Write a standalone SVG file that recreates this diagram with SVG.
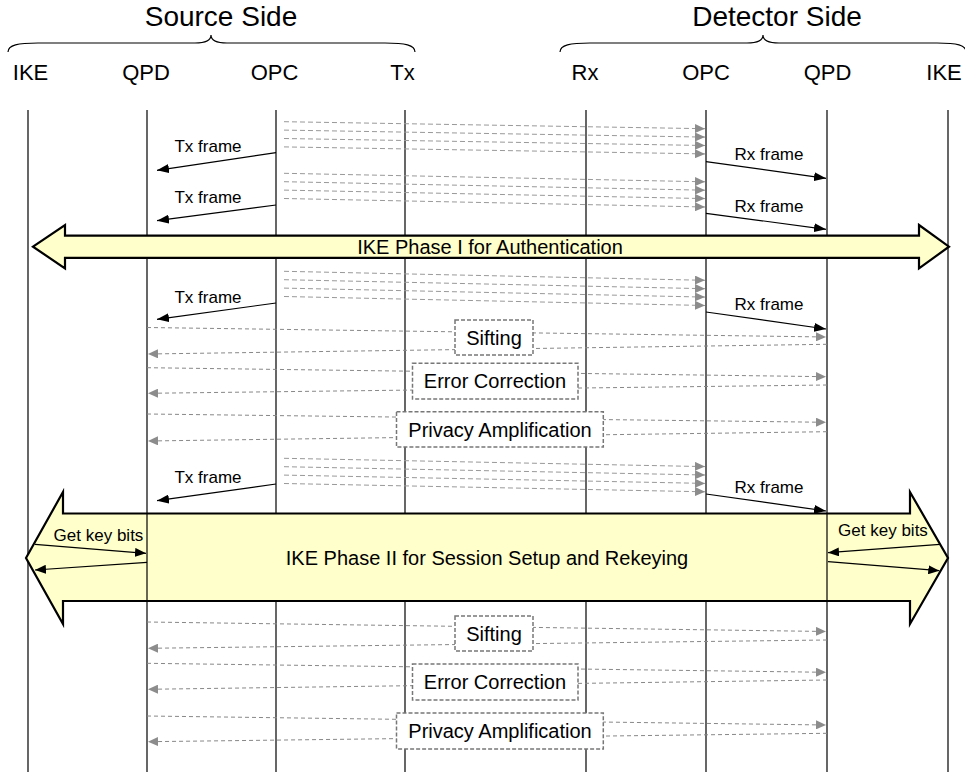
<svg xmlns="http://www.w3.org/2000/svg" width="965" height="772" viewBox="0 0 965 772">
<style>
text{font-family:"Liberation Sans",Arial,sans-serif;fill:#000}
.hdr{font-size:28px;text-anchor:middle}
.lbl{font-size:22px;text-anchor:middle}
.sm{font-size:17px;text-anchor:middle}
.big{font-size:20px;text-anchor:middle}
.life{stroke:#000;stroke-width:1.2;fill:none}
.brace{stroke:#000;stroke-width:1.2;fill:none}
.q{stroke:#999;stroke-width:1;stroke-dasharray:5,3;fill:none;marker-end:url(#ag)}
.msg{stroke:#000;stroke-width:1.2;fill:none;marker-end:url(#ab)}
.kb{stroke:#000;stroke-width:1.2;fill:none;marker-end:url(#ak)}
.pp{stroke:#888;stroke-width:1;stroke-dasharray:4,3;fill:none;marker-end:url(#ag)}
.box{fill:#fff;stroke:#777;stroke-width:1.5;stroke-dasharray:4,2}
.ike{fill:#FFFFCC;stroke:#000;stroke-width:2.2;stroke-linejoin:miter}
</style>
<defs>
<marker id="ag" markerUnits="userSpaceOnUse" markerWidth="11" markerHeight="9" refX="10" refY="4.5" orient="auto"><path d="M0,0 L10,4.5 L0,9 z" fill="#8c8c8c"/></marker>
<marker id="ab" markerUnits="userSpaceOnUse" markerWidth="13" markerHeight="9" refX="12" refY="4.5" orient="auto"><path d="M0,0 L12,4.5 L0,9 z" fill="#000"/></marker>
<marker id="ak" markerUnits="userSpaceOnUse" markerWidth="12" markerHeight="9" refX="11" refY="4.5" orient="auto"><path d="M0,0 L11,4.5 L0,9 z" fill="#000"/></marker>
</defs>

<g id="headers">
<text class="hdr" x="221" y="26">Source Side</text>
<text class="hdr" x="777" y="26">Detector Side</text>
<path class="brace" d="M8,52 C8,45 18,43 38,43 L195,43 C205,43 211,40 211,35 C211,40 217,43 227,43 L385,43 C405,43 415,45 415,52"/>
<path class="brace" d="M560,52 C560,45 570,43 590,43 L747,43 C757,43 763,40 763,35 C763,40 769,43 779,43 L937,43 C957,43 966,45 966,52"/>
</g>

<g id="lifelines">
<g id="src-ike"><text class="lbl" x="30.5" y="80">IKE</text><line class="life" x1="28" y1="110" x2="28" y2="772"/></g>
<g id="src-qpd"><text class="lbl" x="146" y="80">QPD</text><line class="life" x1="147" y1="110" x2="147" y2="772"/></g>
<g id="src-opc"><text class="lbl" x="274.5" y="80">OPC</text><line class="life" x1="276" y1="110" x2="276" y2="772"/></g>
<g id="src-tx"><text class="lbl" x="402.5" y="80">Tx</text><line class="life" x1="405" y1="110" x2="405" y2="772"/></g>
<g id="det-rx"><text class="lbl" x="585" y="80">Rx</text><line class="life" x1="586" y1="110" x2="586" y2="772"/></g>
<g id="det-opc"><text class="lbl" x="706" y="80">OPC</text><line class="life" x1="706" y1="110" x2="706" y2="772"/></g>
<g id="det-qpd"><text class="lbl" x="827.5" y="80">QPD</text><line class="life" x1="827" y1="110" x2="827" y2="772"/></g>
<g id="det-ike"><text class="lbl" x="944" y="80">IKE</text><line class="life" x1="948" y1="110" x2="948" y2="772"/></g>
</g>

<g id="connectors">
<g id="frames1">
<line class="q" x1="284" y1="121.7" x2="705" y2="128.7"/>
<line class="q" x1="284" y1="130.1" x2="705" y2="137.1"/>
<line class="q" x1="284" y1="138.5" x2="705" y2="145.5"/>
<line class="q" x1="284" y1="146.9" x2="705" y2="153.9"/>
<line class="msg" x1="276" y1="152.7" x2="157" y2="170.3"/>
<text class="sm" x="208" y="152">Tx frame</text>
<line class="msg" x1="706" y1="161.7" x2="826" y2="178.3"/>
<text class="sm" x="769" y="160">Rx frame</text>
</g>
<g id="frames2">
<line class="q" x1="284" y1="173.3" x2="705" y2="181.8"/>
<line class="q" x1="284" y1="181.7" x2="705" y2="190.2"/>
<line class="q" x1="284" y1="190.1" x2="705" y2="198.6"/>
<line class="q" x1="284" y1="198.5" x2="705" y2="207"/>
<line class="msg" x1="276" y1="205" x2="157" y2="220.7"/>
<text class="sm" x="208" y="203">Tx frame</text>
<line class="msg" x1="706" y1="213.3" x2="826" y2="229.3"/>
<text class="sm" x="769" y="211.7">Rx frame</text>
</g>
</g>

<g id="ike-phase1">
<polygon class="ike" points="33,246.7 65,225 65,235.7 919,235.7 919,225 949,246.7 919,268.4 919,257.8 65,257.8 65,268.4"/>
<text class="big" x="490" y="253.5">IKE Phase I for Authentication</text>
</g>

<g id="connectors2">
<g id="frames3">
<line class="q" x1="284" y1="271.3" x2="705" y2="280.3"/>
<line class="q" x1="284" y1="279.7" x2="705" y2="288.7"/>
<line class="q" x1="284" y1="288.1" x2="705" y2="297.1"/>
<line class="q" x1="284" y1="296.5" x2="705" y2="305.5"/>
<line class="msg" x1="276" y1="303" x2="157" y2="319.3"/>
<text class="sm" x="208" y="302.7">Tx frame</text>
<line class="msg" x1="706" y1="312" x2="826" y2="329"/>
<text class="sm" x="769" y="310">Rx frame</text>
</g>
<g id="post1">
<line class="pp" x1="147" y1="327.5" x2="826" y2="337"/>
<line class="pp" x1="827" y1="344.3" x2="148" y2="354"/>
<line class="pp" x1="147" y1="367.7" x2="826" y2="376.7"/>
<line class="pp" x1="827" y1="385" x2="148" y2="393.3"/>
<line class="pp" x1="147" y1="414" x2="826" y2="422.3"/>
<line class="pp" x1="827" y1="431.7" x2="148" y2="441"/>
</g>
<g id="frames4">
<line class="q" x1="284" y1="458.3" x2="705" y2="466.6"/>
<line class="q" x1="284" y1="466.7" x2="705" y2="475"/>
<line class="q" x1="284" y1="475.1" x2="705" y2="483.4"/>
<line class="q" x1="284" y1="483.5" x2="705" y2="491.8"/>
<line class="msg" x1="276" y1="484" x2="157" y2="500.7"/>
<text class="sm" x="208" y="483.3">Tx frame</text>
<line class="msg" x1="706" y1="494" x2="826" y2="511"/>
<text class="sm" x="769" y="493">Rx frame</text>
</g>
</g>

<g id="sifting1"><rect class="box" x="455" y="320" width="78" height="35"/><text class="big" x="494" y="344.5">Sifting</text></g>
<g id="errcorr1"><rect class="box" x="412.5" y="363.3" width="165.5" height="35.7"/><text class="big" x="495" y="388">Error Correction</text></g>
<g id="privamp1"><rect class="box" x="396.5" y="411.7" width="206.8" height="35.3"/><text class="big" x="500" y="436.5">Privacy Amplification</text></g>

<g id="ike-phase2">
<polygon class="ike" points="26,558 63,492 63,513.5 910,513.5 910,492 948,558 910,624 910,601 63,601 63,624"/>
<line class="life" x1="147" y1="513.5" x2="147" y2="601"/>
<line class="life" x1="827" y1="513.5" x2="827" y2="601"/>
<text class="big" x="487" y="565">IKE Phase II for Session Setup and Rekeying</text>
</g>

<g id="connectors3">
<g id="getkey">
<line class="kb" x1="35" y1="544.3" x2="146" y2="553.3"/>
<line class="kb" x1="147" y1="562.3" x2="35" y2="570"/>
<text class="sm" x="98.5" y="540.7">Get key bits</text>
<line class="kb" x1="940" y1="544.3" x2="828" y2="552.7"/>
<line class="kb" x1="828" y1="561.7" x2="939.3" y2="570.7"/>
<text class="sm" x="883" y="536">Get key bits</text>
</g>
<g id="post2">
<line class="pp" x1="147" y1="622" x2="826" y2="631.5"/>
<line class="pp" x1="827" y1="640" x2="148" y2="648.3"/>
<line class="pp" x1="147" y1="663.3" x2="826" y2="672.3"/>
<line class="pp" x1="827" y1="680" x2="148" y2="689.3"/>
<line class="pp" x1="147" y1="716" x2="826" y2="725"/>
<line class="pp" x1="827" y1="733.3" x2="148" y2="741.7"/>
</g>
</g>

<g id="sifting2"><rect class="box" x="455" y="616" width="78" height="35"/><text class="big" x="494" y="640.5">Sifting</text></g>
<g id="errcorr2"><rect class="box" x="412.5" y="664" width="165.5" height="36"/><text class="big" x="495" y="689">Error Correction</text></g>
<g id="privamp2"><rect class="box" x="396.5" y="713" width="206.8" height="36"/><text class="big" x="500" y="738">Privacy Amplification</text></g>
</svg>
